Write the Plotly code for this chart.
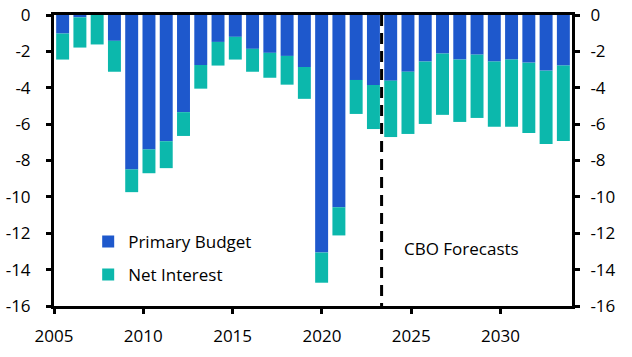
import plotly.graph_objects as go

years = list(range(2005, 2035))
primary_budget = [-1.02, -0.13, 0.0, -1.42, -8.49, -7.39, -6.94, -5.34, -2.75, -1.48,
                  -1.20, -1.86, -2.08, -2.25, -2.86, -13.06, -10.57, -3.57, -3.85, -3.61,
                  -3.12, -2.56, -2.12, -2.45, -2.18, -2.56, -2.45, -2.62, -3.06, -2.78]
net_interest = [-1.43, -1.66, -1.62, -1.70, -1.25, -1.31, -1.48, -1.31, -1.30, -1.30,
                -1.25, -1.26, -1.37, -1.58, -1.75, -1.66, -1.55, -1.87, -2.42, -3.10,
                -3.42, -3.43, -3.37, -3.43, -3.48, -3.59, -3.70, -3.87, -4.03, -4.15]
x_tick_vals = [2005, 2010, 2015, 2020, 2025, 2030]
x_tick_text = ["2005", "2010", "2015", "2020", "2025", "2030"]
y_tick_vals = [0, -2, -4, -6, -8, -10, -12, -14, -16]
y_tick_text = ["0", "-2", "-4", "-6", "-8", "-10", "-12", "-14", "-16"]
forecast_start = 2023.34

BLUE = "#1E58CC"
TEAL = "#0CB8AC"
FONT = "Open Sans"
FS = 17

fig = go.Figure()
fig.add_trace(go.Bar(x=years, y=primary_budget, name="Primary Budget",
                     marker=dict(color=BLUE, line=dict(width=0)),
                     xaxis="x2", yaxis="y", legend="legend"))
fig.add_trace(go.Bar(x=years, y=net_interest, name="Net Interest",
                     marker=dict(color=TEAL, line=dict(width=0)),
                     xaxis="x2", yaxis="y", legend="legend2"))
# invisible trace to activate right-hand axis
fig.add_trace(go.Scatter(x=[years[0]], y=[0], mode="none", showlegend=False,
                         hoverinfo="skip", xaxis="x", yaxis="y2"))

axis_common = dict(showline=True, linecolor="black", linewidth=3, ticks="outside",
                   ticklen=5, tickwidth=2.5, tickcolor="black", showgrid=False,
                   zeroline=False, automargin=False,
                   tickfont=dict(family=FONT, size=FS, color="black"))

fig.update_layout(
    width=632, height=357,
    margin=dict(l=54, r=60, t=15, b=51),
    plot_bgcolor="white", paper_bgcolor="white",
    barmode="relative", bargap=0.25,
    font=dict(family=FONT, size=FS, color="black"),
    xaxis=dict(range=[2005, 2034], tickvals=x_tick_vals, ticktext=x_tick_text,
               mirror=True, ticklabelstandoff=8, anchor="y", **axis_common),
    xaxis2=dict(type="category", overlaying="x", range=[-0.5, len(years) - 0.5],
                visible=False, anchor="y", automargin=False),
    yaxis=dict(range=[-16, 0], tickvals=y_tick_vals, ticktext=y_tick_text,
               ticklabelstandoff=12, anchor="x", **axis_common),
    yaxis2=dict(range=[-16, 0], tickvals=y_tick_vals, ticktext=y_tick_text,
                overlaying="y", side="right", anchor="x",
                ticklabelstandoff=7, **axis_common),
    legend=dict(x=0.066, y=0.22, xanchor="left", yanchor="middle",
                bgcolor="rgba(0,0,0,0)", font=dict(family=FONT, size=FS)),
    legend2=dict(x=0.066, y=0.1065, xanchor="left", yanchor="middle",
                 bgcolor="rgba(0,0,0,0)", font=dict(family=FONT, size=FS)),
    shapes=[dict(type="line", xref="x", yref="y", x0=forecast_start, x1=forecast_start,
                 y0=0, y1=-16, line=dict(color="black", width=3, dash="11px,7px"))],
    annotations=[dict(text="CBO Forecasts", xref="paper", yref="paper",
                      x=0.787, y=0.196, xanchor="center", yanchor="middle",
                      showarrow=False,
                      font=dict(family=FONT, size=FS, color="black"))],
)

fig.write_html("out.html",
               config={"displayModeBar": False},
               post_script="document.body.style.margin='0';document.body.style.padding='0';")
